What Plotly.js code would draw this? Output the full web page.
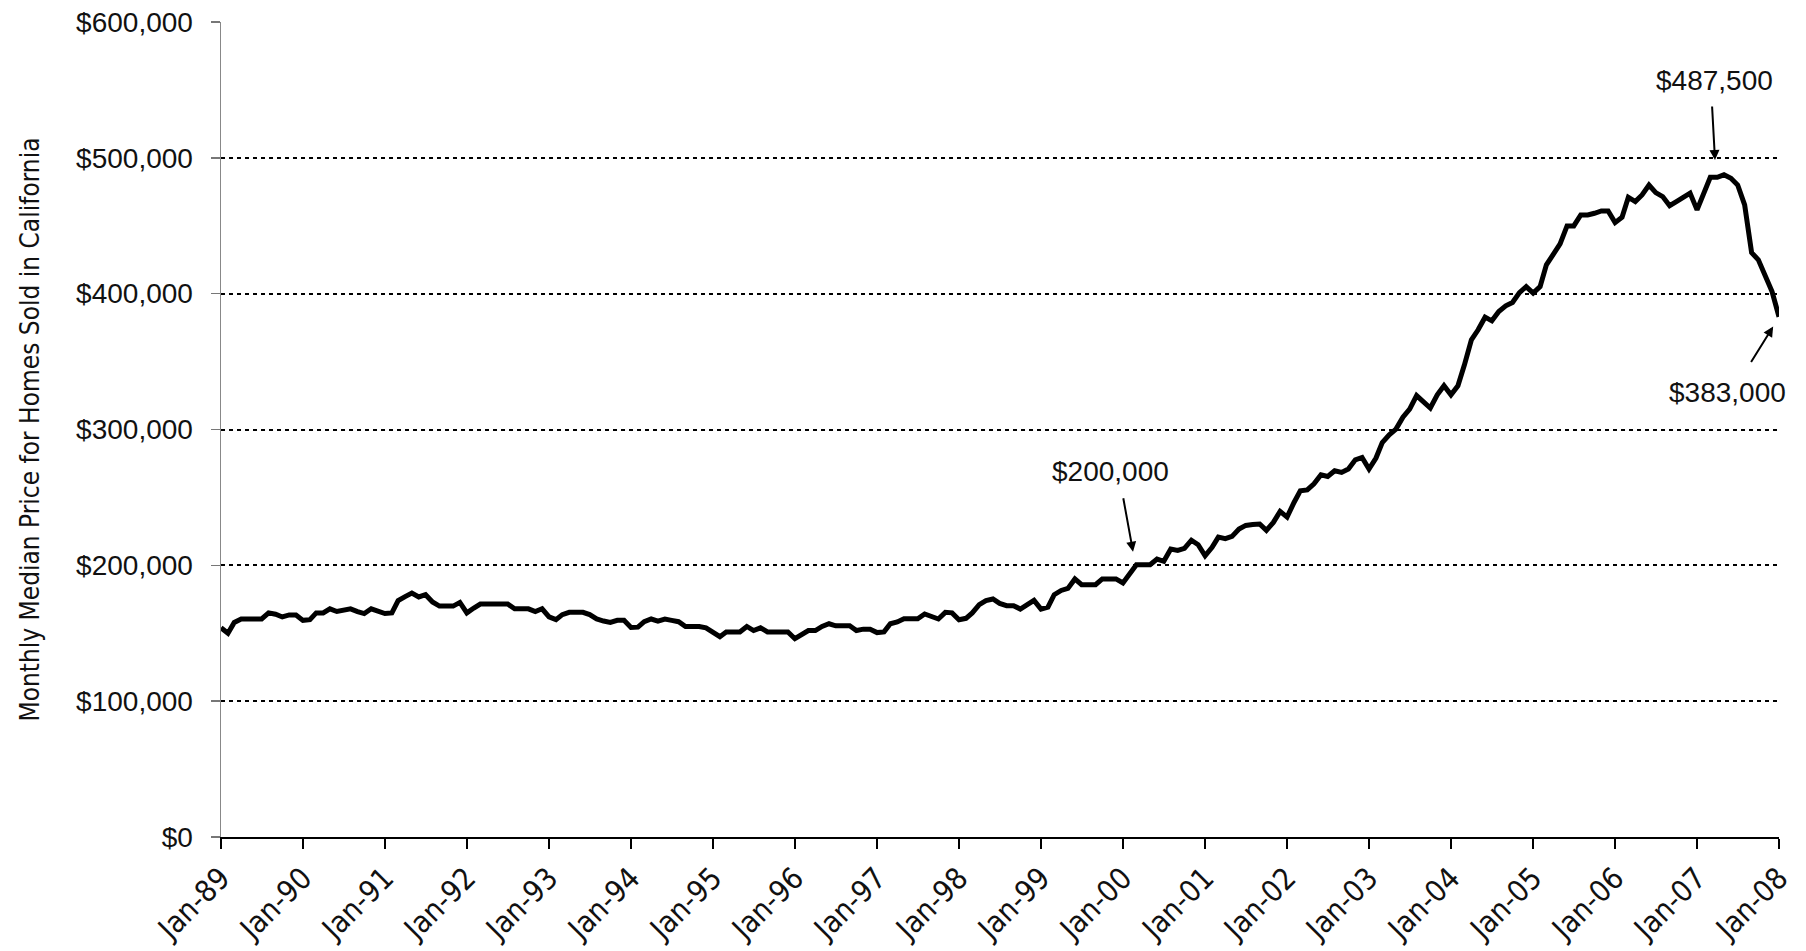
<!DOCTYPE html>
<html>
<head>
<meta charset="utf-8">
<script src="https://cdn.plot.ly/plotly-3.0.1.min.js"></script>
<style>
  html, body { margin: 0; padding: 0; background: #ffffff; }
  #chart { width: 1806px; height: 951px; }
</style>
</head>
<body>
<div id="chart"></div>
<script>
// Monthly median price for homes sold in California, in thousands of dollars (Jan..Dec)
const p1989 = [154, 150, 158, 160.5, 160.5, 160.5, 160.5, 165, 164, 162, 163.5, 163.5];
const p1990 = [159.5, 160, 165, 165, 168, 166, 167, 168, 166, 164.5, 168, 166];
const p1991 = [164.5, 165, 174, 177, 179.6, 176.7, 178.4, 173, 170, 170, 170, 172.7];
const p1992 = [165, 168.6, 171.5, 171.5, 171.5, 171.5, 171.5, 168, 168, 168, 166, 168];
const p1993 = [162, 160, 163.7, 165.4, 165.4, 165.4, 163.7, 160.5, 159, 158, 159.5, 159.5];
const p1994 = [154.3, 154.5, 158.5, 160.5, 159, 160.5, 159.5, 158.5, 155, 155, 155, 154];
const p1995 = [151, 147.5, 150.9, 150.9, 150.9, 155, 152, 154, 151, 151, 151, 151];
const p1996 = [146, 149.4, 152, 152, 155, 157, 155.5, 155.5, 155.5, 152, 153, 153];
const p1997 = [150.5, 151, 157, 158.3, 160.7, 160.7, 160.7, 164.2, 162.5, 160.5, 165.4, 165];
const p1998 = [160, 161, 165, 171, 174, 175.2, 172, 170.3, 170.3, 167.8, 171, 174.2];
const p1999 = [167.8, 169.3, 178.4, 181.5, 183, 190, 185.7, 185.7, 185.7, 190, 190, 190];
const p2000 = [187, 193.8, 200.4, 200.4, 200.4, 204.6, 203, 212, 211, 212.5, 218.5, 215.2];
const p2001 = [207, 213.2, 220.8, 219.6, 221.3, 226.7, 229.4, 230, 230.4, 225.7, 231.6, 239.7];
const p2002 = [235.5, 246.3, 254.9, 255.5, 260, 266.7, 265.4, 269.6, 268.4, 270.9, 277.7, 279.4];
const p2003 = [270.9, 279, 290.4, 296.1, 300.3, 309.1, 315, 325, 320, 315.8, 325.5, 332.2];
const p2004 = [325.5, 332.2, 347.6, 366, 373.4, 382.7, 380, 386.9, 391, 393.5, 400.8, 405.2];
const p2005 = [400.4, 405.2, 421.2, 429.3, 436.6, 449.9, 449.9, 458, 458, 459.2, 460.9, 460.9];
const p2006 = [452.3, 456.3, 471, 467.8, 472.7, 480, 474.4, 471.5, 464.8, 467.8, 470.7, 474];
const p2007 = [461.7, 474, 485.7, 485.7, 487.5, 485, 480, 465.4, 430.2, 424.9, 412.6, 401.6];
const p2008 = [383];

const years = [1989, 1990, 1991, 1992, 1993, 1994, 1995, 1996, 1997, 1998, 1999,
               2000, 2001, 2002, 2003, 2004, 2005, 2006, 2007, 2008];
const yearSeries = [p1989, p1990, p1991, p1992, p1993, p1994, p1995, p1996, p1997, p1998,
                    p1999, p2000, p2001, p2002, p2003, p2004, p2005, p2006, p2007, p2008];
const tickLabels = ['Jan-89', 'Jan-90', 'Jan-91', 'Jan-92', 'Jan-93', 'Jan-94', 'Jan-95',
                    'Jan-96', 'Jan-97', 'Jan-98', 'Jan-99', 'Jan-00', 'Jan-01', 'Jan-02',
                    'Jan-03', 'Jan-04', 'Jan-05', 'Jan-06', 'Jan-07', 'Jan-08'];
const yTickVals = [0, 100000, 200000, 300000, 400000, 500000, 600000];
const yTickText = ['$0', '$100,000', '$200,000', '$300,000', '$400,000', '$500,000', '$600,000'];

function pad(n) { return (n < 10 ? '0' : '') + n; }

const xDates = [];
const yPrices = [];
years.forEach(function (yr, i) {
  yearSeries[i].forEach(function (v, m) {
    xDates.push(yr + '-' + pad(m + 1) + '-01');
    yPrices.push(v * 1000);
  });
});
const tickVals = years.map(function (yr) { return yr + '-01-01'; });

const labelFont = { family: 'Liberation Sans, Arial, sans-serif', size: 28, color: '#111111' };
const condFamily = 'DejaVu Sans Condensed, Liberation Sans Narrow, Liberation Sans, sans-serif';
const xTickFont = { family: condFamily, size: 30, color: '#111111' };

const trace = {
  type: 'scatter',
  mode: 'lines',
  x: xDates,
  y: yPrices,
  line: { color: '#000000', width: 5 },
  hoverinfo: 'skip',
  showlegend: false
};

const arrowStyle = { showarrow: true, arrowhead: 2, arrowsize: 1, arrowwidth: 2, arrowcolor: '#000000', text: '', xref: 'x', yref: 'y', axref: 'pixel', ayref: 'pixel' };

const layout = {
  width: 1806,
  height: 951,
  paper_bgcolor: '#ffffff',
  plot_bgcolor: '#ffffff',
  margin: { l: 221, r: 27, t: 22, b: 114 },
  showlegend: false,
  xaxis: {
    type: 'date',
    range: ['1989-01-01', '2008-01-01'],
    tickmode: 'array',
    tickvals: tickVals,
    ticktext: tickLabels,
    tickangle: -45,
    tickfont: xTickFont,
    ticks: 'outside',
    ticklen: 10,
    tickwidth: 1.5,
    tickcolor: '#000000',
    showline: true,
    linecolor: '#000000',
    linewidth: 1.5,
    showgrid: false,
    zeroline: false,
    automargin: false
  },
  yaxis: {
    range: [0, 600000],
    tickmode: 'array',
    tickvals: yTickVals,
    ticktext: yTickText,
    tickfont: labelFont,
    ticks: 'outside',
    ticklen: 9,
    tickwidth: 1.5,
    tickcolor: '#777777',
    ticklabelstandoff: 12,
    showline: true,
    linecolor: '#888888',
    linewidth: 1.5,
    showgrid: true,
    gridcolor: '#000000',
    gridwidth: 2,
    griddash: '4px,4px',
    zeroline: false,
    automargin: false,
    title: {
      text: 'Monthly Median Price for Homes Sold in California',
      font: { family: condFamily, size: 26, color: '#111111' },
      standoff: 29
    }
  },
  annotations: [
    { text: '$200,000', showarrow: false, xref: 'x', yref: 'y', x: '1999-11-07', y: 268900, font: labelFont, xanchor: 'center', yanchor: 'middle' },
    Object.assign({}, arrowStyle, { x: '2000-02-15', y: 210000, ax: -10, ay: -55 }),
    { text: '$487,500', showarrow: false, xref: 'x', yref: 'y', x: '2007-03-19', y: 557300, font: labelFont, xanchor: 'center', yanchor: 'middle' },
    Object.assign({}, arrowStyle, { x: '2007-03-22', y: 498400, ax: -3, ay: -55 }),
    { text: '$383,000', showarrow: false, xref: 'x', yref: 'y', x: '2007-05-18', y: 327400, font: labelFont, xanchor: 'center', yanchor: 'middle' },
    Object.assign({}, arrowStyle, { x: '2007-12-06', y: 375800, ax: -23, ay: 37 })
  ]
};

Plotly.newPlot('chart', [trace], layout, { displayModeBar: false, staticPlot: true });
</script>
</body>
</html>
